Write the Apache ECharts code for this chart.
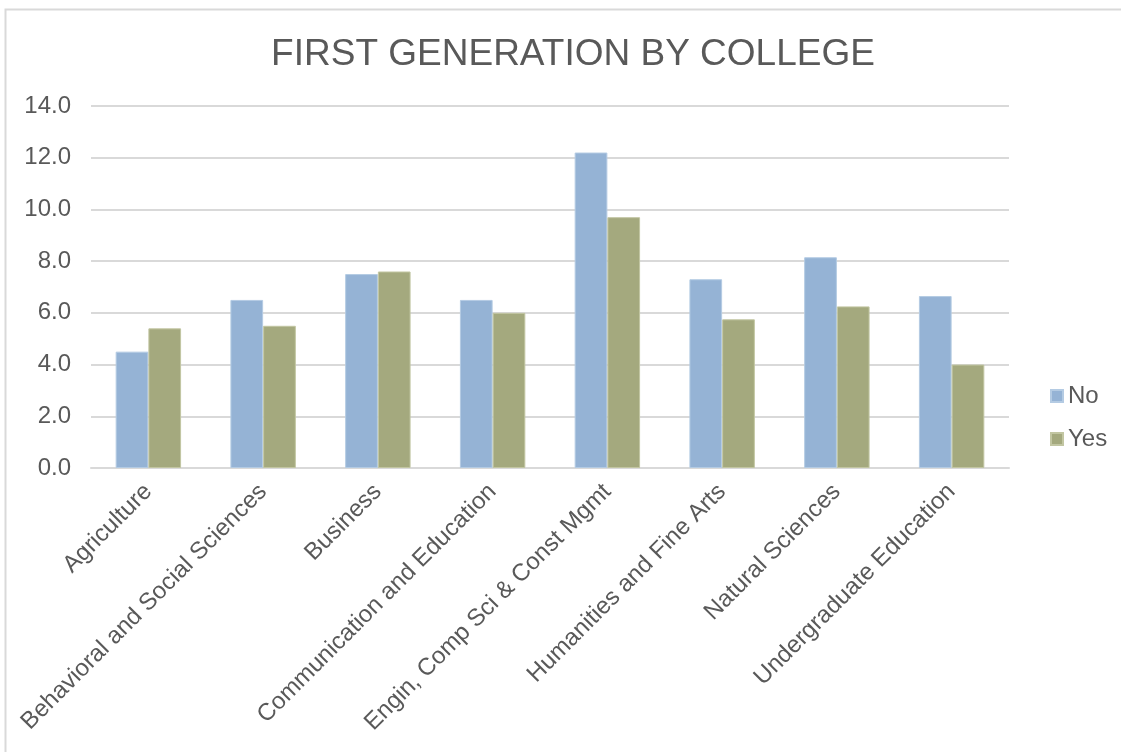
<!DOCTYPE html>
<html>
<head>
<meta charset="utf-8">
<title>First Generation by College</title>
<script src="https://cdn.jsdelivr.net/npm/echarts@6/dist/echarts.min.js"></script>
<style>
  html, body { margin: 0; padding: 0; background: #ffffff; }
  #chart { width: 1121px; height: 752px; }
</style>
</head>
<body>
<div id="chart"></div>
<script>
// College names along the x axis
const colleges = [
  'Agriculture',
  'Behavioral and Social Sciences',
  'Business',
  'Communication and Education',
  'Engin, Comp Sci & Const Mgmt',
  'Humanities and Fine Arts',
  'Natural Sciences',
  'Undergraduate Education'
];

// Share of students per college, split by first-generation status
const noValues  = [4.5, 6.5, 7.5, 6.5, 12.2, 7.3, 8.15, 6.65];
const yesValues = [5.4, 5.5, 7.6, 6.0, 9.7, 5.75, 6.25, 4.0];

// Value axis range and step
const yMin = 0;
const yMax = 14;
const yStep = 2;

const textColor = '#595959';
const lineColor = '#D9D9D9';
const fontFamily = 'Liberation Sans, Arial, sans-serif';

const chart = echarts.init(document.getElementById('chart'));

chart.setOption({
  animation: false,
  backgroundColor: '#ffffff',
  textStyle: { fontFamily: fontFamily, color: textColor },
  title: {
    text: 'FIRST GENERATION BY COLLEGE',
    left: 568,
    top: 31,
    textAlign: 'center',
    textStyle: {
      fontFamily: fontFamily,
      fontSize: 37,
      fontWeight: 'normal',
      color: textColor
    }
  },
  graphic: [{
    type: 'rect',
    shape: { x: 5.5, y: 9.5, width: 1130, height: 760 },
    style: { fill: 'none', stroke: lineColor, lineWidth: 2 },
    silent: true
  }],
  legend: {
    orient: 'vertical',
    left: 1045,
    top: 379,
    itemWidth: 12,
    itemHeight: 12,
    itemGap: 19,
    icon: 'rect',
    textStyle: { fontFamily: fontFamily, fontSize: 24, color: textColor },
    data: ['No', 'Yes']
  },
  grid: {
    left: 91,
    right: 112,
    top: 106,
    bottom: 284
  },
  xAxis: {
    type: 'category',
    data: colleges,
    axisLine: { lineStyle: { color: lineColor, width: 2 } },
    axisTick: { show: false },
    axisLabel: {
      rotate: 45,
      interval: 0,
      margin: 20,
      fontFamily: fontFamily,
      fontSize: 24,
      color: textColor
    }
  },
  yAxis: {
    type: 'value',
    min: yMin,
    max: yMax,
    interval: yStep,
    axisLine: { show: false },
    axisTick: { show: false },
    splitLine: { lineStyle: { color: lineColor, width: 2 } },
    axisLabel: {
      margin: 20,
      fontFamily: fontFamily,
      fontSize: 24,
      color: textColor,
      formatter: v => v.toFixed(1)
    }
  },
  series: [
    {
      name: 'No',
      type: 'bar',
      data: noValues,
      barGap: '0%',
      barCategoryGap: '43%',
      itemStyle: { color: '#95B3D5', borderColor: '#B4CBE3', borderWidth: 1 }
    },
    {
      name: 'Yes',
      type: 'bar',
      data: yesValues,
      itemStyle: { color: '#A4A97E', borderColor: '#C2C6A2', borderWidth: 1 }
    }
  ]
});
</script>
</body>
</html>
